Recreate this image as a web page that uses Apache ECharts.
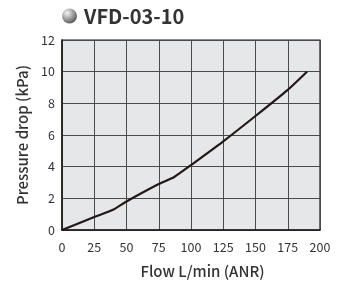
<!DOCTYPE html>
<html>
<head>
<meta charset="UTF-8">
<title>VFD-03-10</title>
<script src="https://cdn.jsdelivr.net/npm/echarts@6/dist/echarts.min.js"></script>
<style>
  html, body { margin: 0; padding: 0; background: #fff; }
  #chart { width: 345px; height: 284px; }
</style>
</head>
<body>
<div id="chart"></div>
<script>
// 流量 (L/min) 与压降 (kPa)
const flow = [0, 25, 40, 50, 75, 87, 100, 125, 150, 175, 190];
const pressure = [0, 0.82, 1.3, 1.8, 2.9, 3.35, 4.1, 5.6, 7.2, 8.85, 10];
const seriesName = 'VFD-03-10';

const font = '"Noto Sans CJK JP", "Noto Sans", sans-serif';
const chart = echarts.init(document.getElementById('chart'));

chart.setOption({
  animation: false,
  textStyle: { fontFamily: font },
  legend: {
    left: 62,
    top: 6,
    padding: 0,
    itemWidth: 15,
    itemHeight: 15,
    icon: 'circle',
    data: [{
      name: seriesName,
      itemStyle: {
        color: new echarts.graphic.RadialGradient(0.35, 0.3, 0.75, [
          { offset: 0, color: '#f4f4f4' },
          { offset: 1, color: '#555' }
        ])
      }
    }],
    textStyle: { fontSize: 20, fontWeight: 'bold', color: '#333', fontFamily: font, padding: [0, 0, 0, 2] }
  },
  grid: {
    left: 62, right: 25, top: 40, bottom: 50,
    show: true,
    backgroundColor: '#e6e7e8',
    borderColor: '#231815',
    borderWidth: 1.2
  },
  xAxis: {
    type: 'value',
    min: 0, max: 200, interval: 25,
    name: 'Flow L/min (ANR)',
    nameLocation: 'middle',
    nameGap: 34,
    nameTextStyle: { fontSize: 15, fontWeight: 500, color: '#333', padding: [0, 0, 0, 23] },
    axisLine: { lineStyle: { color: '#231815', width: 1.5 } },
    axisTick: { show: false },
    axisLabel: { fontSize: 12.5, color: '#333', margin: 11 },
    splitLine: { lineStyle: { color: '#4a4a4a', width: 1 } }
  },
  yAxis: {
    type: 'value',
    min: 0, max: 12, interval: 2,
    name: 'Pressure drop (kPa)',
    nameLocation: 'middle',
    nameGap: 32,
    nameTextStyle: { fontSize: 15, fontWeight: 500, color: '#333' },
    axisLine: { show: true, lineStyle: { color: '#231815', width: 1.5 } },
    axisTick: { show: false },
    axisLabel: { fontSize: 12.5, color: '#333', margin: 7 },
    splitLine: { lineStyle: { color: '#4a4a4a', width: 1 } }
  },
  series: [{
    name: seriesName,
    type: 'line',
    data: flow.map((f, i) => [f, pressure[i]]),
    showSymbol: false,
    smooth: 0.2,
    lineStyle: { color: '#231815', width: 2.2 },
    itemStyle: { color: '#231815' }
  }]
});
</script>
</body>
</html>
